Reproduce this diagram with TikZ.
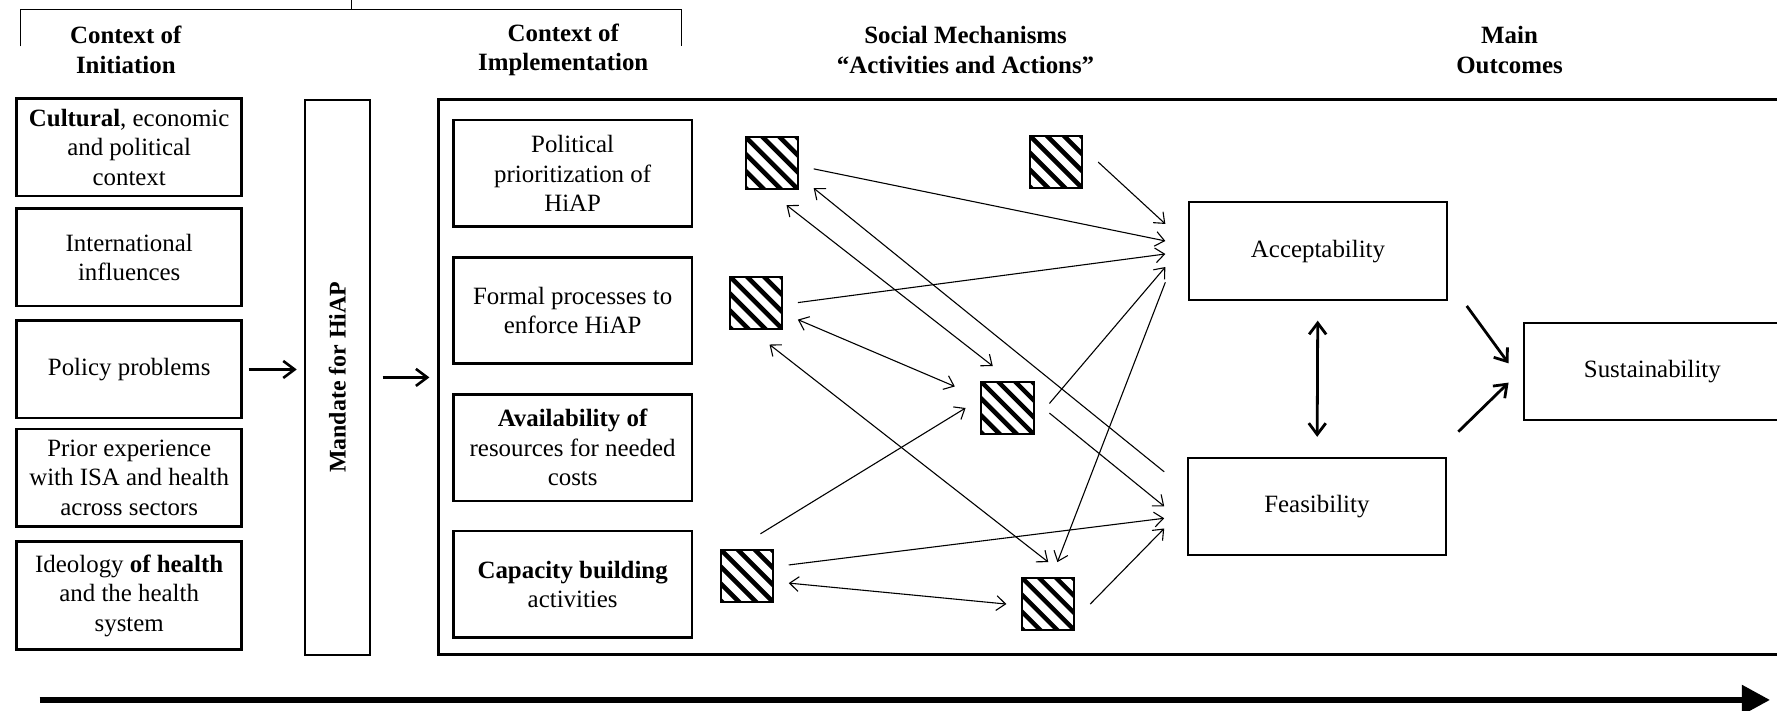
\documentclass[tikz,border=0pt]{standalone}
\usepackage{fontspec}
\setmainfont{Liberation Serif}
\usepackage{tikz}
\usetikzlibrary{arrows, arrows.meta, calc}

\tikzset{
    head/.style={align=center, font=\fontsize{12.5}{14.8}\selectfont\bfseries},
    box/.style={draw, line width=1.3pt, align=center, minimum width=3.97cm, minimum height=1.72cm},
    inbox/.style={draw, line width=1.3pt, align=center, minimum width=4.21cm, minimum height=1.88cm},
    outcome/.style={draw, line width=1pt, minimum width=4.55cm, minimum height=1.72cm},
    mech/.style={draw, line width=1pt, minimum size=0.92cm, outer sep=0.28cm,
        path picture={\foreach \k in {-3,...,3} \draw[line width=2.3pt] ($(path picture bounding box.center)+({\k*0.3cm-0.6cm},0.6cm)$) -- ++(1.2cm,-1.2cm);}},
    link/.style={line width=0.55pt, ->},
    dlink/.style={line width=0.55pt, <->},
    bigarrow/.style={line width=1.3pt, -{Straight Barb[length=0.2cm,width=0.3cm]}},
    dbig/.style={line width=1.4pt, {Straight Barb[length=0.2cm,width=0.3cm]}-{Straight Barb[length=0.2cm,width=0.3cm]}}
}

\begin{document}
\begin{tikzpicture}[x=0.02cm, y=-0.02cm, font=\fontsize{12.5}{14.8}\selectfont, >={Straight Barb[length=0.16cm,width=0.26cm]}]
    \useasboundingbox (0,0) rectangle (1568,627);
    \clip (0,0) rectangle (1568,627);

    \draw[line width=0.5pt] (18,41) |- (601.5,8) -- (601.5,41);
    \draw[line width=0.5pt] (310,0) -- (310,8);
    \node[head] (hini) at (111,44) {Context of\\Initiation};
    \node[head] (himp) at (497,44) {Context of\\Implementation};
    \node[head] (hmech) at (852,44) {Social Mechanisms\\“Activities and Actions”};
    \node[head] (hout) at (1332,44) {Main\\Outcomes};

    \node[box] (cult) at (114,130) {\textbf{Cultural}, economic\\and political\\context};
    \node[box] (intl) at (114,227) {International\\influences};
    \node[box] (pol) at (114,326) {Policy problems};
    \node[box] (prior) at (114,421.5) {Prior experience\\with ISA and health\\across sectors};
    \node[box, minimum height=1.9cm] (ideo) at (114,525.5) {Ideology \textbf{of health}\\and the health\\system};

    \node[draw, line width=1.3pt, minimum width=1.15cm, minimum height=9.8cm, font=\fontsize{12}{14}\selectfont\bfseries] (mand) at (297.7,333) {\rotatebox{90}{Mandate for HiAP}};
    \node[draw, line width=1.4pt, minimum width=24.06cm, minimum height=9.8cm] (impl) at (988.5,332.5) {};

    \node[inbox] (prio) at (505.3,153) {Political\\prioritization of\\HiAP};
    \node[inbox] (formal) at (505.3,274) {Formal processes to\\enforce HiAP};
    \node[inbox] (avail) at (505.3,395) {\textbf{Availability of}\\resources for needed\\costs};
    \node[inbox] (capa) at (505.3,515.5) {\textbf{Capacity building}\\activities};

    \node[mech] (m1) at (681,144) {};
    \node[mech] (m2) at (932,143) {};
    \node[mech] (m3) at (667,267) {};
    \node[mech] (m4) at (889,360) {};
    \node[mech] (m5) at (659,508) {};
    \node[mech] (m6) at (925,533) {};

    \node[outcome, outer xsep=0.42cm] (acc) at (1163,221.6) {Acceptability};
    \node[outcome, outer xsep=0.42cm] (fea) at (1162,446.8) {Feasibility};
    \node[outcome, minimum width=4.52cm] (sus) at (1458,327.6) {Sustainability};

    \draw[bigarrow, shorten <=0.1cm, shorten >=0.12cm] (pol) -- (pol -| mand.west);
    \draw[bigarrow, shorten <=0.2cm, shorten >=0.14cm] (mand) -- (mand -| impl.west);

    \draw[link] ([yshift=-0.1cm]m1.east) -- ([yshift=0.18cm]acc.west);
    \draw[link] (m2.east) -- ([yshift=0.48cm]acc.west);
    \draw[link] (m3.east) -- ([yshift=-0.05cm]acc.west);
    \draw[link] ([yshift=0.08cm]m4.east) -- ([yshift=-0.28cm]acc.west);
    \draw[link] ([yshift=-0.55cm]acc.west) -- ([xshift=0.16cm]m6.north);
    \draw[link] ([yshift=0.61cm]fea.west) -- ([yshift=-0.44cm]m1.east);
    \draw[link] ([yshift=-0.09cm]m4.east) -- (fea.west);
    \draw[link] ([yshift=0.19cm]m5.east) -- ([yshift=-0.21cm]fea.west);
    \draw[link] (m6.east) -- ([yshift=-0.39cm]fea.west);
    \draw[dlink] ([xshift=0.26cm]m1.south) -- ([xshift=-0.26cm]m4.north);
    \draw[dlink] ([yshift=-0.3cm]m3.east) -- ([xshift=-0.19cm,yshift=0.38cm]m4.west);
    \draw[dlink] ([xshift=0.24cm]m3.south) -- (m6.north);
    \draw[link] ([xshift=0.24cm]m5.north) -- (m4.west);
    \draw[dlink] ([yshift=-0.13cm]m5.east) -- (m6.west);

    \draw[dbig, shorten <=0.35cm, shorten >=0.35cm] (acc) -- (fea);
    \draw[bigarrow, line width=1.4pt] ([xshift=-0.07cm,yshift=-0.09cm]acc.south east) -- ([xshift=-0.26cm,yshift=0.14cm]sus.west);
    \draw[bigarrow, line width=1.4pt] ([xshift=-0.2cm,yshift=0.44cm]fea.north east) -- ([xshift=-0.26cm,yshift=-0.2cm]sus.west);

    \coordinate (tstart) at (35,617.6);
    \coordinate (tend) at (1562,617.6);
    \draw[line width=3.4pt, -{Triangle[length=0.5cm,width=0.5cm]}] (tstart) -- (tend);
\end{tikzpicture}
\end{document}
